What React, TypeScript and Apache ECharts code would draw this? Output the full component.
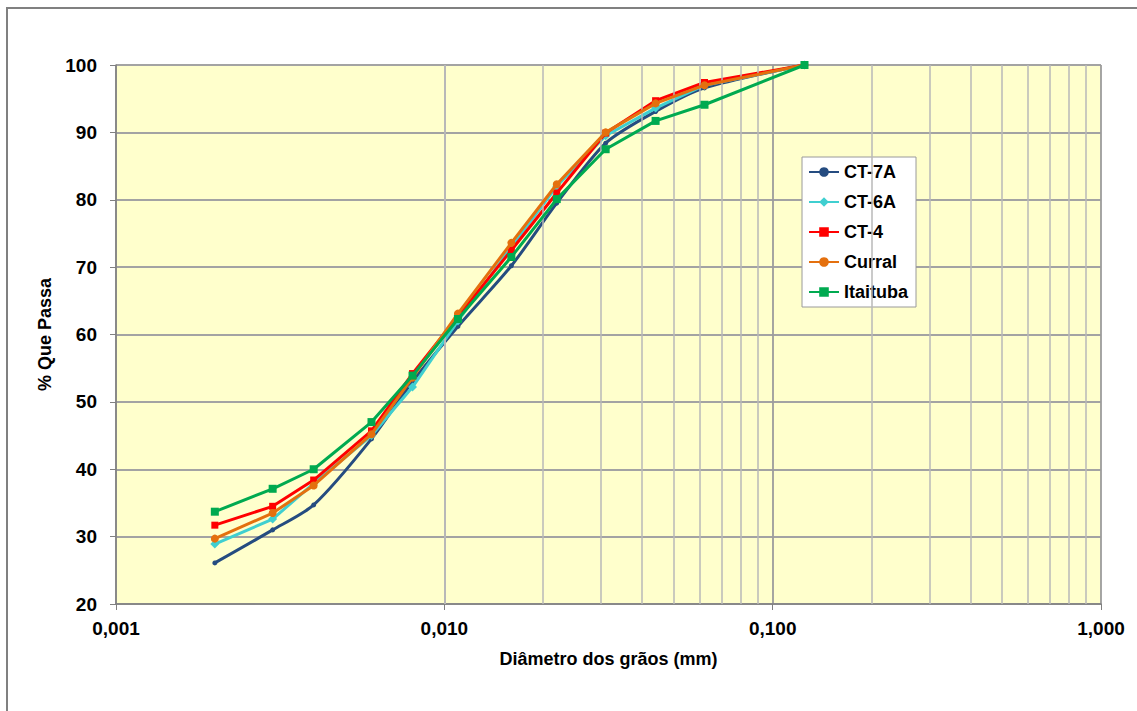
import React, { useEffect, useRef } from "react";
import * as echarts from "echarts";

// Grain diameters (mm) shared by every sample
const diameters = [0.002, 0.003, 0.004, 0.006, 0.008, 0.011, 0.016, 0.022, 0.031, 0.044, 0.062, 0.125];

// Percent passing for each sample
const ct7a = [26.1, 31.0, 34.7, 44.5, 53.0, 61.2, 70.2, 79.5, 88.4, 93.1, 96.6, 100];
const ct6a = [28.9, 32.6, 37.9, 45.0, 52.2, 62.0, 73.0, 82.0, 89.5, 93.6, 97.0, 100];
const ct4 = [31.7, 34.5, 38.4, 45.7, 54.2, 62.7, 72.5, 81.0, 89.9, 94.7, 97.4, 100];
const curral = [29.7, 33.5, 37.6, 45.2, 53.6, 63.1, 73.6, 82.3, 90.0, 94.3, 97.0, 100];
const itaituba = [33.7, 37.1, 40.0, 47.0, 53.9, 62.3, 71.5, 80.1, 87.5, 91.7, 94.1, 100];

// Intermediate log grid positions (2..9 within each decade)
const minorGridX = [
  0.002, 0.003, 0.004, 0.005, 0.006, 0.007, 0.008, 0.009,
  0.02, 0.03, 0.04, 0.05, 0.06, 0.07, 0.08, 0.09,
  0.2, 0.3, 0.4, 0.5, 0.6, 0.7, 0.8, 0.9,
];

const seriesNames = ["CT-7A", "CT-6A", "CT-4", "Curral", "Itaituba"];

const pairs = (ys: number[]) => diameters.map((d, i) => [d, ys[i]]);

const FONT = "'Liberation Sans', Arial, sans-serif";

export default function App() {
  const ref = useRef<HTMLDivElement>(null);

  useEffect(() => {
    if (!ref.current) return;
    const chart = echarts.init(ref.current, undefined, { renderer: "svg" });

    const mkSeries = (
      name: string,
      ys: number[],
      color: string,
      symbol: string,
      symbolSize: number,
      z: number,
      smooth: number | boolean = false
    ) => ({
      name,
      type: "line",
      data: pairs(ys),
      smooth,
      symbol,
      symbolSize,
      showSymbol: true,
      z,
      lineStyle: { color, width: 3 },
      itemStyle: { color, borderWidth: 0 },
      emphasis: { disabled: true },
    });

    chart.setOption({
      animation: false,
      textStyle: { fontFamily: FONT },
      grid: {
        left: 116,
        top: 65,
        right: 36,
        bottom: 107,
        show: true,
        backgroundColor: "#FFFFCC",
        borderWidth: 0,
      },
      graphic: [
        {
          type: "rect",
          shape: { x: 7, y: 8, width: 1300, height: 900 },
          style: { fill: "none", stroke: "#808080", lineWidth: 2 },
          silent: true,
          z: 100,
        },
      ],
      legend: {
        orient: "vertical",
        left: 802,
        top: 157,
        padding: [5, 8, 5, 6],
        itemGap: 10,
        itemWidth: 30,
        itemHeight: 12,
        backgroundColor: "#FFFFFF",
        borderColor: "#9A9A9A",
        borderWidth: 1,
        data: seriesNames,
        textStyle: {
          fontFamily: FONT,
          fontSize: 18,
          fontWeight: "bold",
          color: "#000",
          lineHeight: 20,
        },
      },
      xAxis: {
        type: "log",
        logBase: 10,
        min: 0.001,
        max: 1,
        splitNumber: 3,
        name: "Diâmetro dos grãos (mm)",
        nameLocation: "middle",
        nameGap: 46,
        nameTextStyle: { fontFamily: FONT, fontSize: 18, fontWeight: "bold", color: "#000" },
        axisLine: { show: true, lineStyle: { color: "#808080", width: 1.5 } },
        axisTick: { show: true, inside: false, length: 6, lineStyle: { color: "#808080" } },
        axisLabel: {
          margin: 15,
          fontFamily: FONT,
          fontSize: 19,
          fontWeight: "bold",
          color: "#000",
          formatter: (v: number) => v.toFixed(3).replace(".", ","),
        },
        splitLine: { show: true, lineStyle: { color: "#9C9C9C", width: 1.8 } },
      },
      yAxis: {
        type: "value",
        min: 20,
        max: 100,
        interval: 10,
        name: "% Que Passa",
        nameLocation: "middle",
        nameGap: 60,
        nameTextStyle: { fontFamily: FONT, fontSize: 18, fontWeight: "bold", color: "#000" },
        axisLine: { show: true, lineStyle: { color: "#808080", width: 1.5 } },
        axisTick: { show: true, inside: false, length: 6, lineStyle: { color: "#808080" } },
        axisLabel: {
          margin: 19,
          fontFamily: FONT,
          fontSize: 19,
          fontWeight: "bold",
          color: "#000",
        },
        splitLine: { show: true, lineStyle: { color: "#A3A3A3", width: 1.8 } },
      },
      series: [
        {
          name: "minor-grid",
          type: "line",
          data: [],
          z: 1,
          silent: true,
          markLine: {
            silent: true,
            symbol: ["none", "none"],
            label: { show: false },
            emphasis: { disabled: true },
            lineStyle: { type: "solid", color: "#B8B8B8", width: 1.5 },
            data: minorGridX.map((x) => ({ xAxis: x })),
          },
        },
        mkSeries("CT-7A", ct7a, "#254C80", "circle", 5, 2, 0.25),
        mkSeries("CT-6A", ct6a, "#3FCFD0", "diamond", 9, 3),
        mkSeries("CT-4", ct4, "#FF0000", "rect", 7, 4),
        mkSeries("Curral", curral, "#E4700E", "circle", 8, 5),
        mkSeries("Itaituba", itaituba, "#00AA50", "rect", 8, 6),
      ],
    });

    return () => chart.dispose();
  }, []);

  return (
    <div
      ref={ref}
      style={{ position: "fixed", left: 0, top: 0, width: 1137, height: 711, background: "#fff" }}
    />
  );
}
